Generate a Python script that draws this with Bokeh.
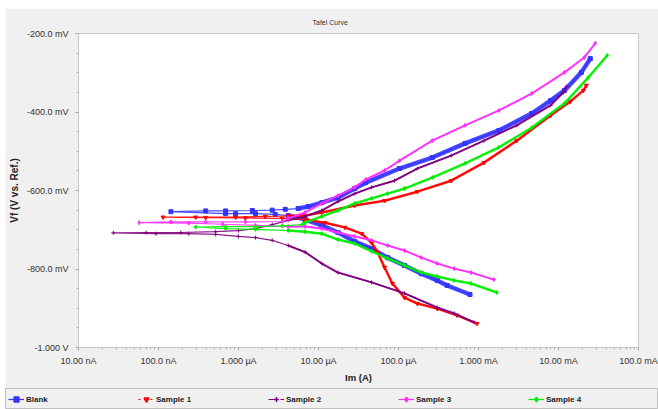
import json
import math
from bokeh.plotting import figure
from bokeh.layouts import column, row
from bokeh.models import FixedTicker, CustomJSTickFormatter, Legend, LegendItem, Spacer
from bokeh.embed import file_html
from bokeh.resources import INLINE

# ---- data: current (A), potential (mV vs Ref) ----
blank_I = [7.83e-4, 4.06e-4, 3.05e-4, 1.93e-4, 1.19e-4, 7.3e-5, 4.62e-5, 2.84e-5, 1.75e-5, 1.1e-5,
           6.8e-6, 5.56e-6, 4.18e-6, 2.88e-6, 1.63e-6, 9.2e-7, 6.9e-7, 1.43e-7,
           3.89e-7, 6.9e-7, 1.49e-6, 2.64e-6, 3.84e-6, 5.56e-6, 7.41e-6, 1.1e-5, 1.75e-5, 2.84e-5,
           3.89e-5, 1.03e-4, 2.64e-4, 6.8e-4, 1.8e-3, 4.62e-3, 7.96e-3, 1.19e-2, 1.93e-2, 2.5e-2]
blank_E = [-865, -842, -829, -812, -791, -771, -748, -730, -707, -689,
           -674, -669, -664, -661, -659, -659, -659, -654,
           -652, -652, -651, -650, -648, -646, -641, -631, -618, -595,
           -580, -544, -516, -480, -447, -404, -371, -345, -299, -264]

s1_I = [9.58e-4, 5.41e-4, 3.05e-4, 1.72e-4, 1.19e-4, 8.4e-5, 6.7e-5, 5.49e-5, 4.62e-5, 3.47e-5,
        2.13e-5, 1.2e-5, 6.8e-6, 3.52e-6, 1.22e-6, 3.89e-7, 1.14e-7,
        2.92e-7, 9.2e-7, 2.16e-6, 4.18e-6, 6.8e-6, 1.1e-5, 2.84e-5, 6.7e-5, 1.72e-4, 4.55e-4,
        1.17e-3, 3.01e-3, 7.96e-3, 1.41e-2, 2.05e-2, 2.23e-2]
s1_E = [-939, -918, -901, -888, -873, -837, -796, -758, -733, -710,
        -694, -682, -674, -671, -670, -669, -668,
        -668, -668, -666, -665, -664, -656, -638, -626, -603, -575,
        -529, -473, -409, -373, -345, -332]

s2_I = [8.8e-4, 4.96e-4, 3.05e-4, 1.19e-4, 4.62e-5, 1.75e-5, 1.1e-5, 6.8e-6, 4.18e-6, 2.64e-6,
        1.63e-6, 1.0e-6, 5.18e-7, 2.39e-7, 9.3e-8, 2.72e-8,
        7.0e-8, 1.9e-7, 5.18e-7, 1.0e-6, 1.63e-6, 2.64e-6, 4.18e-6, 6.8e-6, 1.1e-5, 1.75e-5,
        2.84e-5, 4.62e-5, 8.9e-5, 1.72e-4, 4.55e-4, 1.17e-3, 3.01e-3, 7.96e-3, 1.15e-2, 1.26e-2]
s2_E = [-936, -913, -898, -862, -834, -809, -786, -757, -740, -727,
        -720, -717, -712, -710, -710, -708,
        -707, -707, -705, -702, -697, -687, -676, -666, -651, -628,
        -608, -592, -575, -544, -511, -473, -434, -383, -350, -335]

s3_I = [1.56e-3, 8.07e-4, 4.96e-4, 3.05e-4, 1.93e-4, 1.19e-4, 7.3e-5, 4.62e-5, 2.84e-5, 1.75e-5,
        1.1e-5, 6.8e-6, 4.18e-6, 1.63e-6, 6.33e-7, 2.39e-7, 5.73e-8,
        1.43e-7, 3.89e-7, 1.22e-6, 3.52e-6, 4.18e-6, 6.8e-6, 1.1e-5, 1.75e-5, 2.84e-5, 3.89e-5,
        6.7e-5, 1.03e-4, 2.64e-4, 6.8e-4, 1.8e-3, 4.62e-3, 1.19e-2, 2.1e-2, 2.88e-2]
s3_E = [-827, -809, -799, -786, -771, -753, -740, -727, -717, -707,
        -697, -692, -692, -689, -686, -683, -682,
        -680, -680, -680, -679, -671, -656, -633, -613, -592, -572,
        -549, -524, -473, -434, -396, -353, -299, -261, -225]

s4_I = [1.70e-3, 8.07e-4, 4.96e-4, 3.05e-4, 1.93e-4, 1.19e-4, 7.3e-5, 4.62e-5, 2.84e-5, 1.75e-5,
        1.1e-5, 6.8e-6, 4.18e-6, 1.63e-6, 6.9e-7, 2.92e-7,
        6.9e-7, 1.63e-6, 3.52e-6, 6.24e-6, 6.8e-6, 1.1e-5, 1.75e-5, 2.84e-5, 4.62e-5, 7.3e-5,
        1.19e-4, 2.64e-4, 6.8e-4, 1.8e-3, 4.62e-3, 1.19e-2, 2.36e-2, 4.06e-2]
s4_E = [-860, -837, -829, -819, -809, -791, -773, -755, -735, -725,
        -710, -705, -702, -699, -697, -693,
        -692, -692, -690, -687, -682, -666, -651, -633, -620, -608,
        -595, -567, -531, -490, -440, -378, -312, -256]

series_names = ["Blank", "Sample 1", "Sample 2", "Sample 3", "Sample 4"]

x_ticks = [1e-8, 1e-7, 1e-6, 1e-5, 1e-4, 1e-3, 1e-2, 1e-1]
x_tick_labels = ["10.00 nA", "100.0 nA", "1.000 \u00b5A", "10.00 \u00b5A", "100.0 \u00b5A",
                 "1.000 mA", "10.00 mA", "100.0 mA"]
y_ticks = [-1000, -800, -600, -400, -200]
y_tick_labels = ["-1.000 V", "-800.0 mV", "-600.0 mV", "-400.0 mV", "-200.0 mV"]

# ---- styles ----
colors = ["#3434ff", "#ff0000", "#800080", "#ff30ff", "#00ee00"]
markers = ["square", "inverted_triangle", "cross", "diamond", "diamond"]
widths = [4.5, 2.5, 2.0, 2.0, 2.5]
legend_dash = ["solid", "dotted", "dashed", "solid", "solid"]
dense_from = 4e-6   # currents above which the recorded points merge into a heavy trace

FONT = "Liberation Sans"
BG = "#f0f0f0"
W = 653

p = figure(width=W, height=380, x_axis_type="log", x_range=(1e-8, 1e-1), y_range=(-1000, -200),
           output_backend="svg", toolbar_location=None, title="Tafel Curve",
           min_border_left=67, min_border_right=20, min_border_top=25, min_border_bottom=41)
p.background_fill_color = "white"
p.border_fill_color = BG
p.outline_line_color = "#c8c8c8"
p.grid.visible = False

p.title.align = "left"
p.title.offset = 234
p.title.text_font = FONT
p.title.text_font_size = "7px"
p.title.text_font_style = "normal"
p.title.text_color = "#333333"
p.title.standoff = 15

minor_x = [k * t for t in x_ticks[:-1] for k in range(2, 10)]
p.xaxis.ticker = FixedTicker(ticks=x_ticks, minor_ticks=minor_x)
p.yaxis.ticker = FixedTicker(ticks=y_ticks, minor_ticks=list(range(-1000, -199, 50)))

p.xaxis.formatter = CustomJSTickFormatter(code="""
const T = %s; const L = %s;
let b = 0, bd = Infinity;
for (let i = 0; i < T.length; i++) { const d = Math.abs(Math.log10(tick) - Math.log10(T[i])); if (d < bd) { bd = d; b = i; } }
return L[b];
""" % (json.dumps(x_ticks), json.dumps(x_tick_labels)))
p.yaxis.formatter = CustomJSTickFormatter(code="""
const T = %s; const L = %s;
let b = 0, bd = Infinity;
for (let i = 0; i < T.length; i++) { const d = Math.abs(tick - T[i]); if (d < bd) { bd = d; b = i; } }
return L[b];
""" % (json.dumps(y_ticks), json.dumps(y_tick_labels)))

for ax in (p.xaxis, p.yaxis):
    ax.axis_line_color = "#c8c8c8"
    ax.major_tick_line_color = "#a0a0a0"
    ax.minor_tick_line_color = "#b0b0b0"
    ax.major_tick_in = 0
    ax.minor_tick_in = 0
    ax.major_tick_out = 3
    ax.minor_tick_out = 2
    ax.major_label_text_font = FONT
    ax.major_label_text_font_size = "9px"
    ax.major_label_text_color = "#333333"
    ax.axis_label_text_font = FONT
    ax.axis_label_text_font_style = "bold"
    ax.axis_label_text_color = "#222222"

p.xaxis.major_label_standoff = 5
p.yaxis.major_label_standoff = 7
p.yaxis.axis_label = "Vf (V vs. Ref.)"
p.yaxis.axis_label_text_font_size = "10px"
p.yaxis.axis_label_standoff = 4
p.xaxis.axis_label = "Im (A)"
p.xaxis.axis_label_text_font_size = "9.5px"
p.xaxis.axis_label_standoff = 3

data = [(blank_I, blank_E), (s1_I, s1_E), (s2_I, s2_E), (s3_I, s3_E), (s4_I, s4_E)]
for i, (xs, ys) in enumerate(data):
    c = colors[i]
    heavy_y = [e if cur >= dense_from else math.nan for cur, e in zip(xs, ys)]
    p.line(xs, ys, line_color=c, line_width=1.2, line_alpha=0.9)
    p.line(xs, heavy_y, line_color=c, line_width=widths[i], line_alpha=0.9)
    p.scatter(xs, ys, marker=markers[i], size=4, fill_color=c, line_color=c)

# ---- legend strip (series drawn out of its range: only the legend glyphs show) ----
lg = figure(width=W, height=21, x_range=(0, 1), y_range=(0, 1), output_backend="svg",
            toolbar_location=None, x_axis_location=None, y_axis_location=None,
            min_border=0, min_border_left=0, min_border_right=0, min_border_top=0, min_border_bottom=0)
lg.frame_align = False
lg.background_fill_color = BG
lg.border_fill_color = BG
lg.outline_line_color = "#c0c0c0"
lg.grid.visible = False
items = []
for i, (xs, ys) in enumerate(data):
    c = colors[i]
    lr = lg.line(xs, ys, line_color=c, line_width=1.2, line_dash=legend_dash[i])
    sr = lg.scatter(xs, ys, marker=markers[i], size=8, fill_color=c, line_color=c, line_width=1.5)
    items.append(LegendItem(label=series_names[i], renderers=[lr, sr]))

legend = Legend(items=items, orientation="horizontal", location=(3, 4),
                background_fill_alpha=0.0, border_line_color=None, padding=0, margin=0, spacing=0,
                glyph_width=16, glyph_height=12, label_standoff=2, label_width=112,
                label_height=12, label_text_font=FONT, label_text_font_size="8px",
                label_text_font_style="bold", label_text_color="#222222")
lg.add_layout(legend, "center")

layout = row(Spacer(width=5, height=409),
             column(Spacer(width=W, height=8), p, lg, spacing=0), spacing=0)
open("out.html", "w").write(file_html(layout, INLINE))
